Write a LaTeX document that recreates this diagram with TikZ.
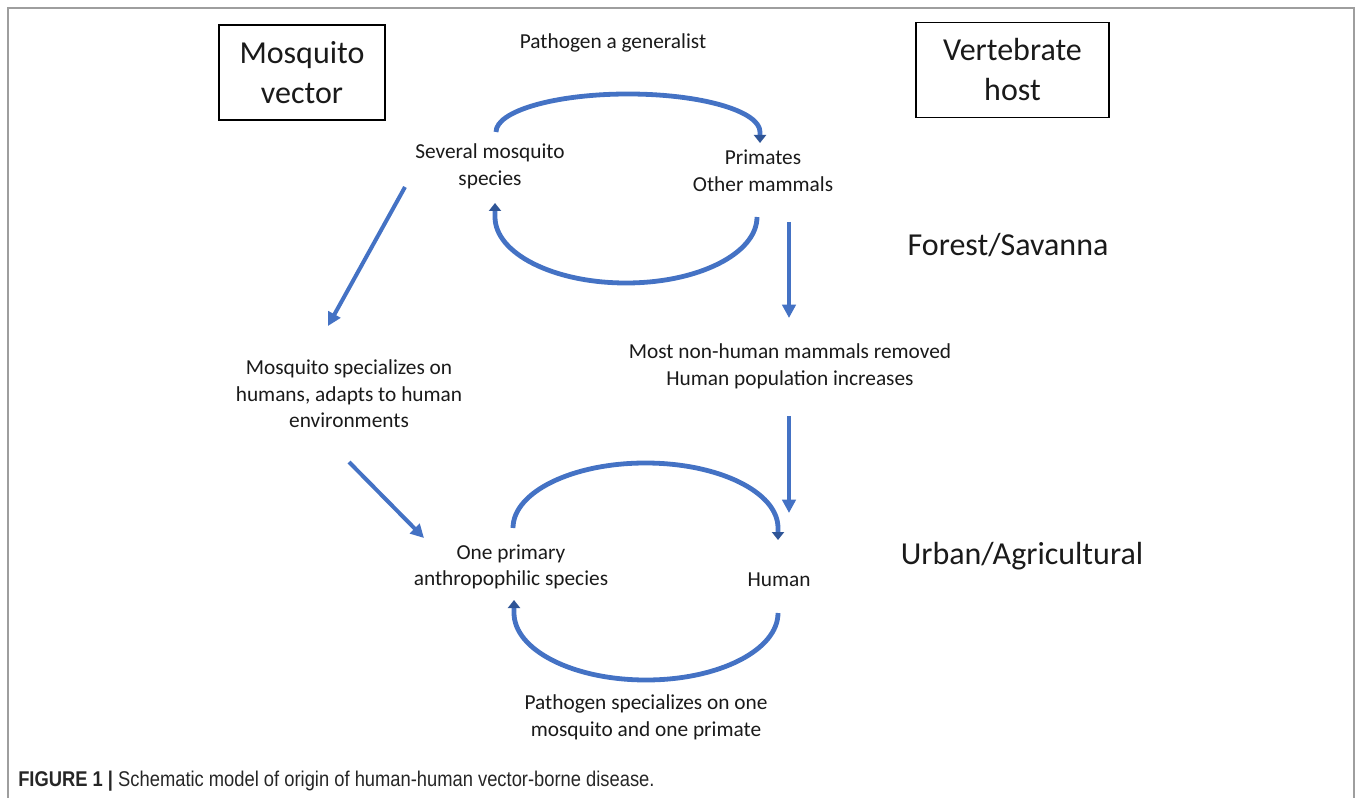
\documentclass[tikz,border=0pt]{standalone}
\usepackage{fontspec}
\setmainfont{Carlito}
\newfontfamily\capfont[FakeStretch=0.86]{Liberation Sans}
\usetikzlibrary{arrows.meta}
\definecolor{obl}{HTML}{4472C4}
\definecolor{odk}{HTML}{2F5597}
\definecolor{txt}{HTML}{1A1A1A}
\begin{document}
\begin{tikzpicture}[x=0.75pt,y=-0.75pt,
  lbl/.style={text=txt,font=\fontsize{16}{20}\selectfont,align=center,inner sep=0pt},
  big/.style={text=txt,font=\fontsize{24}{30}\selectfont,align=center,inner sep=0pt},
  hdr/.style={draw=black,line width=1.1pt,minimum width=124.5pt,minimum height=71pt,align=center,text=txt,font=\fontsize{24}{30}\selectfont},
  arc/.style={draw=obl,line width=3.6pt,-{Triangle[length=6pt,width=9pt,color=odk]}},
  str/.style={draw=obl,line width=3pt,-{Triangle[length=10pt,width=10pt]}}]
\useasboundingbox (0,0) rectangle (1355,798);
% frame
\draw[draw=black!38,line width=1.6pt] (8,798) -- (8,8) -- (1354,8) -- (1354,798);
% header boxes
\node[hdr] (mv) at (302,72.5) {Mosquito\\vector};
\node[hdr,minimum width=144.5pt] (vh) at (1012.5,70) {Vertebrate\\host};
% labels
\node[lbl] (gen) at (613,43) {Pathogen a generalist};
\node[lbl] (sev) at (490,166) {Several mosquito\\species};
\node[lbl] (pri) at (763,171) {Primates\\Other mammals};
\node[big] (fs) at (1008,245) {Forest/Savanna};
\node[lbl] (most) at (790,366) {Most non-human mammals removed\\Human population increases};
\node[lbl] (spec) at (349,394) {Mosquito specializes on\\humans, adapts to human\\environments};
\node[lbl] (one) at (511,567) {One primary\\anthropophilic species};
\node[lbl] (hum) at (779,580) {Human};
\node[big] (ua) at (1022,556) {Urban/Agricultural};
\node[lbl] (pspec) at (646,717) {Pathogen specializes on one\\mosquito and one primate};
\node[anchor=base west,inner sep=0pt,text=black!85,font=\capfont\fontsize{16}{19}\selectfont] (cap) at (18,786) {\textbf{FIGURE 1 |} Schematic model of origin of human-human vector-borne disease.};
% arc anchor coordinates
\coordinate (a1) at (496,132);
\coordinate (a2) at (757,217);
\coordinate (a3) at (513,528);
\coordinate (a4) at (778,613);
% arcs
\draw[arc] (a1) arc[start angle=180,end angle=360,x radius=132,y radius=38] -- ++(0,11);
\draw[arc] (a2) arc[start angle=0,end angle=180,x radius=131,y radius=66] -- ++(0,-14);
\draw[arc] (a3) arc[start angle=180,end angle=360,x radius=132.5,y radius=65] -- ++(0,12);
\draw[arc] (a4) arc[start angle=0,end angle=180,x radius=132,y radius=67] -- ++(0,-13);
% straight arrows
\coordinate (d1s) at (405,187);
\coordinate (d1e) at (328,326);
\coordinate (d2s) at (349,462);
\coordinate (d2e) at (424,538);
\coordinate (v1s) at (789,222);
\coordinate (v1e) at (789,318);
\coordinate (v2s) at (789,416);
\coordinate (v2e) at (789,513);
\draw[str] (d1s) -- (d1e);
\draw[str] (d2s) -- (d2e);
\draw[str] (v1s) -- (v1e);
\draw[str] (v2s) -- (v2e);
\end{tikzpicture}
\end{document}
